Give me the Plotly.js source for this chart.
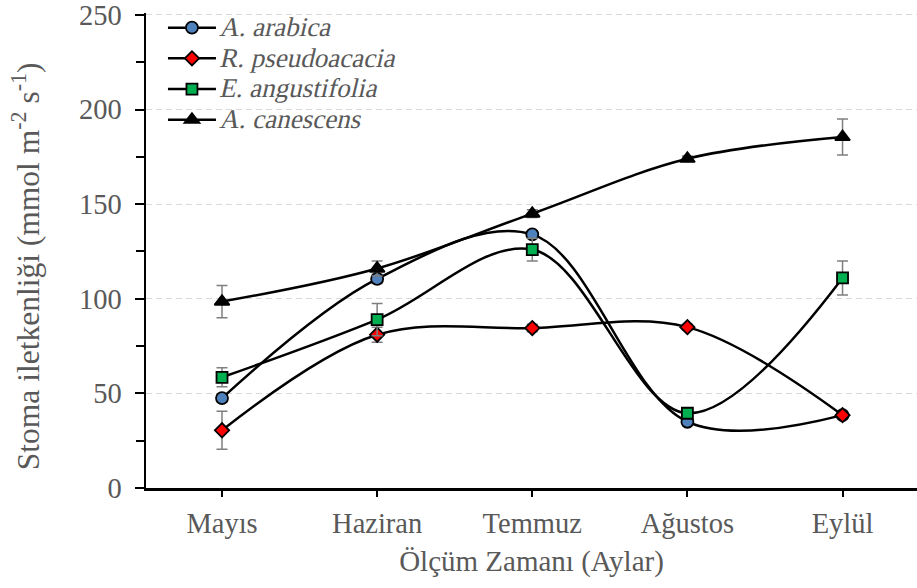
<!DOCTYPE html>
<html>
<head>
<meta charset="utf-8">
<script src="https://cdn.plot.ly/plotly-3.0.1.min.js"></script>
<style>
  html, body { margin: 0; padding: 0; background: #fff; }
  #chart { width: 917px; height: 588px; }
</style>
</head>
<body>
<div id="chart"></div>
<script>
// Measurement months
const months = ['Mayıs', 'Haziran', 'Temmuz', 'Ağustos', 'Eylül'];

// Stomatal conductance (mmol m-2 s-1) and standard errors per species
const arabica = [47.5, 110.5, 134, 35, 38.5];
const arabicaErr = [2, 2.5, 2, 1.5, 1];
const pseudoacacia = [30.5, 81, 84.5, 85, 38.5];
const pseudoacaciaErr = [10, 4, 2, 1.5, 1];
const angustifolia = [58.5, 89, 126, 39.5, 111];
const angustifoliaErr = [5, 8.5, 6, 1.5, 9];
const canescens = [98.5, 116, 145, 174, 185.5];
const canescensErr = [8.5, 4, 2, 1.5, 9.5];

const yTicks = [0, 50, 100, 150, 200, 250];

const TXT = '#595959';
const SERIF = 'Liberation Serif';

function series(name, y, err, symbol, fill, size) {
  return {
    type: 'scatter',
    mode: 'lines+markers',
    name: '<span style="font-size:27px">' + name + '</span>',
    x: months,
    y: y,
    line: { color: '#000', width: 2.5, shape: 'spline', smoothing: 1 },
    marker: { symbol: symbol, size: size, color: fill, line: { color: '#000', width: 1.8 } },
    error_y: { type: 'data', array: err, visible: true, color: '#7f7f7f', thickness: 1.5, width: 5.5 }
  };
}

const data = [
  series('A. arabica', arabica, arabicaErr, 'circle', '#4f81bd', 12),
  series('R. pseudoacacia', pseudoacacia, pseudoacaciaErr, 'diamond', '#ff0000', 11),
  series('E. angustifolia', angustifolia, angustifoliaErr, 'square', '#00b050', 11),
  series('A. canescens', canescens, canescensErr, 'triangle-up', '#000000', 13)
];

const layout = {
  width: 917,
  height: 588,
  margin: { l: 146, r: 0, t: 13.1, b: 100 },
  paper_bgcolor: '#fff',
  plot_bgcolor: '#fff',
  font: { family: SERIF, size: 28, color: TXT },
  showlegend: true,
  legend: {
    x: 0.022, y: 1.012, xanchor: 'left', yanchor: 'top',
    bgcolor: 'rgba(0,0,0,0)',
    font: { family: SERIF, size: 21.3, color: TXT },
    itemwidth: 48,
    tracegroupgap: 0
  },
  xaxis: {
    type: 'category',
    range: [-0.49, 4.48],
    showline: true, linecolor: '#000', linewidth: 2.5,
    ticks: 'outside', ticklen: 6, tickwidth: 2, tickcolor: '#000',
    ticklabelstandoff: 2,
    showgrid: false, zeroline: false,
    tickfont: { family: SERIF, size: 28.5, color: TXT },
    title: { text: 'Ölçüm Zamanı (Aylar)', font: { family: SERIF, size: 29, color: TXT }, standoff: 13 }
  },
  yaxis: {
    range: [0, 251],
    tickmode: 'array', tickvals: yTicks, ticktext: yTicks.map(String),
    showline: true, linecolor: '#000', linewidth: 2.5,
    ticks: 'outside', ticklen: 9, tickwidth: 2, tickcolor: '#000',
    ticklabelstandoff: 7,
    ticklabeloverflow: 'allow',
    minor: { tickmode: 'linear', tick0: 25, dtick: 50, ticks: 'outside', ticklen: 8, tickwidth: 2, tickcolor: '#000', showgrid: false },
    showgrid: true, gridcolor: '#d9d9d9', gridwidth: 1.2, griddash: '6px,4px',
    zeroline: false,
    tickfont: { family: SERIF, size: 28.5, color: TXT }
  },
  annotations: [{
    text: 'Stoma iletkenliği (mmol m<sup>-2</sup> s<sup>-1</sup>)',
    xref: 'paper', yref: 'paper',
    x: 0, y: 0.467, xanchor: 'center', yanchor: 'middle',
    xshift: -120,
    textangle: -90,
    showarrow: false,
    font: { family: SERIF, size: 31.5, color: TXT }
  }]
};

Plotly.newPlot('chart', data, layout, { displayModeBar: false, staticPlot: true }).then(function (gd) {
  // Slant the species names (scientific names are written in italics)
  gd.querySelectorAll('.legendtext').forEach(function (t) {
    t.setAttribute('transform', 'skewX(-13)');
  });
});
</script>
</body>
</html>
